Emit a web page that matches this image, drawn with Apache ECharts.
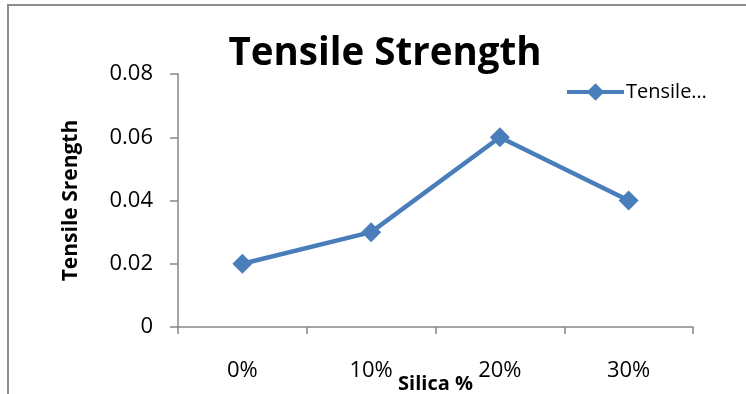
<!DOCTYPE html>
<html>
<head>
<meta charset="utf-8">
<script src="https://cdn.jsdelivr.net/npm/echarts@6/dist/echarts.min.js"></script>
<style>
  html, body { margin: 0; padding: 0; background: #fff; }
  #frame { position: absolute; left: 7px; top: 4px; width: 739px; height: 390px;
           border-top: 2px solid #8c8c8c; border-left: 2px solid #8c8c8c; box-sizing: border-box; }
  #chart { position: absolute; left: 0; top: 0; width: 746px; height: 394px; }
</style>
</head>
<body>
<div id="frame"></div>
<div id="chart"></div>
<script>
// Silica content categories and measured tensile strength
const silicaLevels = ['0%', '10%', '20%', '30%'];
const tensileValues = [0.02, 0.03, 0.06, 0.04];
const seriesName = 'Tensile Strength';

const FONT = '"Open Sans", Lato, sans-serif';
const chart = echarts.init(document.getElementById('chart'), null, { renderer: 'canvas', width: 746, height: 394 });

chart.setOption({
  backgroundColor: 'transparent',
  animation: false,
  title: {
    text: 'Tensile Strength',
    left: 380, top: 30, textAlign: 'center',
    textStyle: { fontFamily: FONT, fontWeight: 'bold', fontSize: 38.5, color: '#000' }
  },
  legend: {
    data: [seriesName],
    left: 560, top: 77,
    itemWidth: 57, itemHeight: 22, itemGap: 4,
    lineStyle: { width: 4 },
    formatter: n => n.split(' ')[0] + '…',
    textStyle: { fontFamily: FONT, fontSize: 20, color: '#000', padding: [0, 0, 0, -3] }
  },
  grid: { left: 178, top: 74, width: 515, height: 253, containLabel: false, outerBoundsMode: 'none' },
  xAxis: {
    type: 'category',
    data: silicaLevels,
    boundaryGap: true,
    name: 'Silica %',
    nameLocation: 'middle',
    nameGap: 47,
    nameMoveOverlap: false,
    nameTextStyle: { fontFamily: FONT, fontWeight: 'bold', fontSize: 20, color: '#000' },
    axisLine: { lineStyle: { color: '#868686', width: 1.5 } },
    axisTick: { show: true, length: 7, lineStyle: { color: '#868686', width: 1.5 } },
    axisLabel: { fontFamily: FONT, fontSize: 22, color: '#000', margin: 33 },
    splitLine: { show: false }
  },
  yAxis: {
    type: 'value',
    min: 0, max: 0.08, interval: 0.02,
    name: 'Tensile Srength',
    nameLocation: 'middle',
    nameGap: 96,
    nameTextStyle: { fontFamily: FONT, fontWeight: 'bold', fontSize: 21, color: '#000' },
    axisLine: { show: true, lineStyle: { color: '#868686', width: 1.5 } },
    axisTick: { show: true, length: 8, lineStyle: { color: '#868686', width: 1.5 } },
    axisLabel: { fontFamily: FONT, fontSize: 22, color: '#000', margin: 25,
                 formatter: v => (v === 0 ? '0' : v.toFixed(2)) },
    splitLine: { show: false }
  },
  series: [{
    name: seriesName,
    type: 'line',
    data: tensileValues,
    symbol: 'diamond',
    symbolSize: 20,
    lineStyle: { color: '#4a7ebb', width: 4.5 },
    itemStyle: { color: '#4a7ebb' }
  }]
});
</script>
</body>
</html>
